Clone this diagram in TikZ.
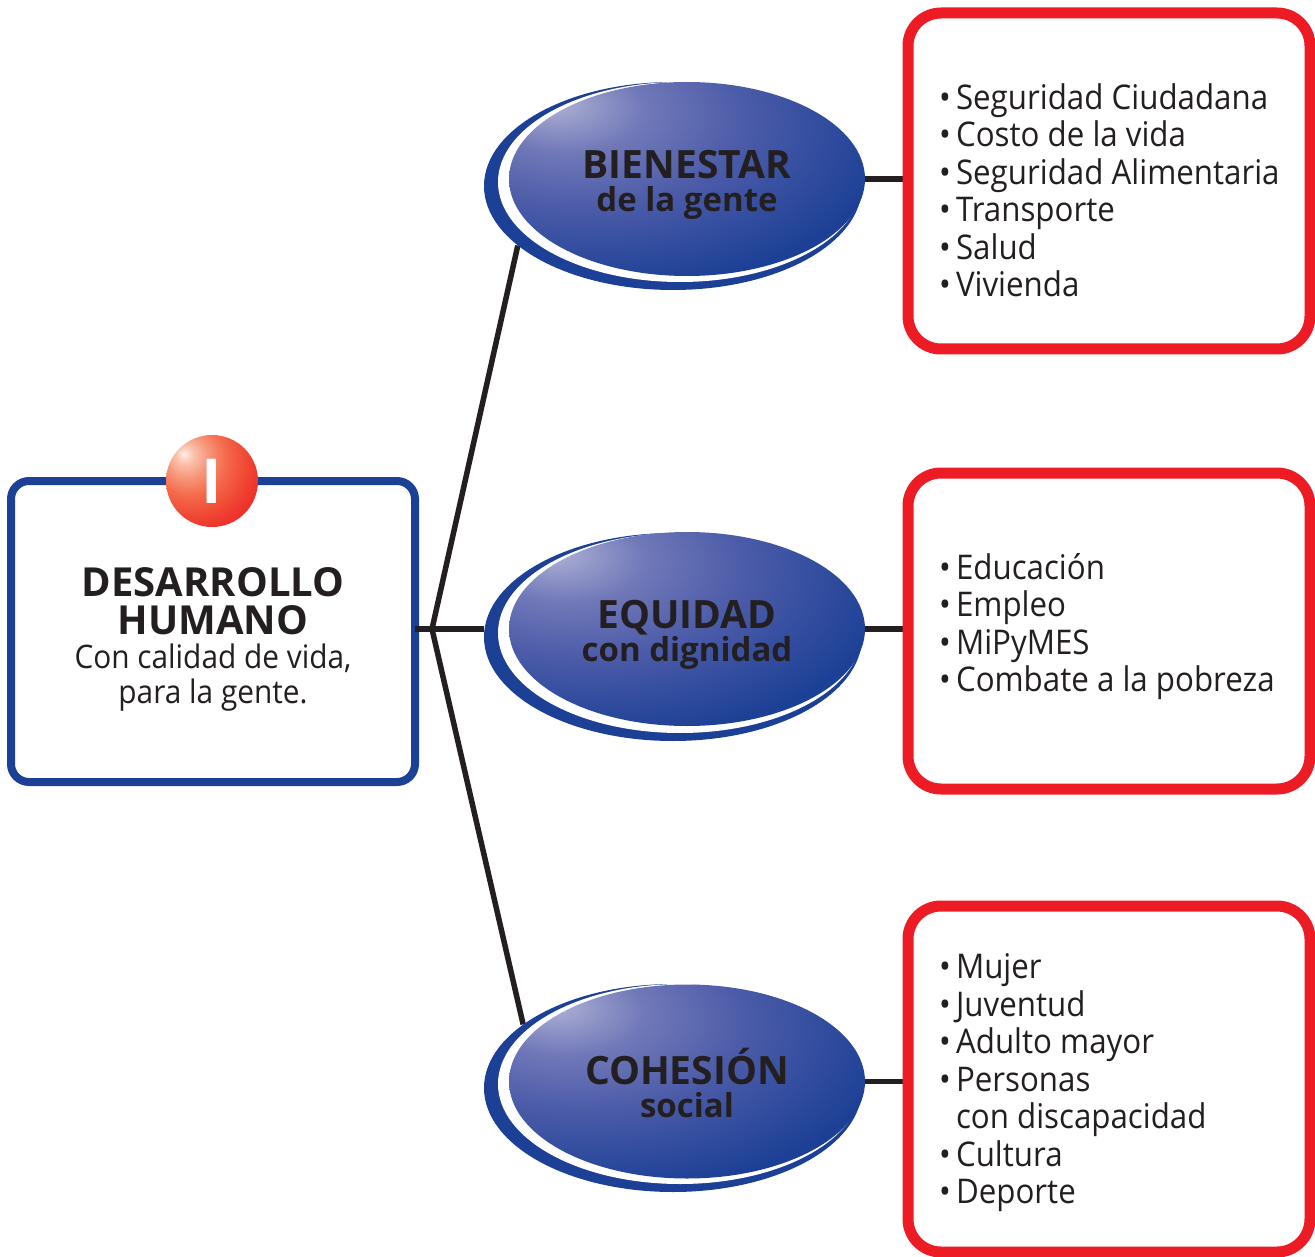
\documentclass[tikz,border=0pt]{standalone}
\usepackage{fontspec}
\setmainfont{Open Sans}[FakeStretch=0.92,BoldFeatures={FakeStretch=1}]
\usetikzlibrary{positioning}
\usetikzlibrary{backgrounds}
\usetikzlibrary{shapes.geometric}

\definecolor{deepblue}{HTML}{1C4096}
\definecolor{palelilac}{HTML}{B0B2D6}
\definecolor{softlilac}{HTML}{7078B8}
\definecolor{midblue}{HTML}{4B5BA8}
\definecolor{signred}{HTML}{ED1C24}
\definecolor{paleglow}{HTML}{FFF0E8}
\definecolor{softglow}{HTML}{FBC0AA}
\definecolor{peachglow}{HTML}{F79478}
\definecolor{warmred}{HTML}{F46A4B}
\definecolor{hotred}{HTML}{F04A35}
\definecolor{inkgrey}{HTML}{231F20}

\pgfdeclareradialshading{ovalglow}{\pgfpoint{-19bp}{20bp}}{
  color(0bp)=(palelilac); color(11bp)=(softlilac); color(23bp)=(midblue); color(40bp)=(deepblue); color(100bp)=(deepblue)}
\pgfdeclareradialshading{ballglow}{\pgfpoint{-15.5bp}{15bp}}{
  color(0bp)=(paleglow); color(5bp)=(softglow); color(12bp)=(peachglow); color(20bp)=(warmred); color(29bp)=(hotred); color(43bp)=(signred); color(100bp)=(signred)}

\tikzset{
  backoval/.style={ellipse,fill=deepblue,inner sep=0pt,minimum width=378pt,minimum height=208pt},
  gapoval/.style={ellipse,fill=white,inner sep=0pt,minimum width=364pt,minimum height=200pt},
  frontoval/.style={ellipse,shading=ovalglow,inner sep=0pt,minimum width=356pt,minimum height=194pt,
    text=inkgrey,align=center,font=\fontsize{33}{34}\selectfont},
  redbox/.style={draw=signred,line width=11pt,fill=white,rounded corners=33pt,minimum width=402pt},
  listtext/.style={anchor=west,text=inkgrey,align=left,font=\fontsize{34}{37.5}\selectfont},
  branch/.style={draw=inkgrey,line width=5.5pt}
}
\newcommand{\itm}{\makebox[17pt][l]{\textbullet}}
\newcommand{\titlesize}{\fontsize{40}{39}\selectfont\bfseries}
\newcommand{\bodysize}{\fontsize{32.4}{35}\selectfont}
\newcommand{\bigname}[2]{\rule{0pt}{39pt}{\fontsize{39}{35}\selectfont\bfseries #1}\\[-1pt]{\fontsize{33}{33}\selectfont\bfseries #2}}

\begin{document}
\begin{tikzpicture}[x=1pt,y=-1pt]
\useasboundingbox (0,0) rectangle (1315,1257);
% left box
\node (humano) [draw=deepblue,line width=8pt,rounded corners=18pt,minimum width=404pt,minimum height=301pt,
  text=inkgrey,align=center,font=\fontsize{33}{35}\selectfont] at (213,631.5)
  {\rule{0pt}{45pt}\titlesize DESARROLLO\\[3pt]\titlesize HUMANO\\[-1pt]
   \bodysize Con calidad de vida,\\\bodysize para la gente.};
\node (badge) [circle,shading=ballglow,minimum size=92pt,inner sep=0pt,text=white,
  font=\fontsize{62}{62}\selectfont\bfseries] at (212,481) {I};
\coordinate (hub) at (432,629);
% ovals
\node (bienestarback) [backoval] at (673,186) {};
\node (bienestargap) [gapoval] at (680,182) {};
\node (bienestar) [frontoval] at (687,179) {\bigname{BIENESTAR}{de la gente}};
\node (equidadback) [backoval] at (673,637) {};
\node (equidadgap) [gapoval] at (680,633) {};
\node (equidad) [frontoval] at (687,629) {\bigname{EQUIDAD}{con dignidad}};
\node (cohesionback) [backoval] at (673,1088) {};
\node (cohesiongap) [gapoval] at (680,1084) {};
\node (cohesion) [frontoval] at (687,1081.5) {\bigname{COHESIÓN}{social}};
% red boxes
\node (boxa) [redbox,minimum height=336pt] at (1109,181) {};
\node (boxb) [redbox,minimum height=316pt] at (1109,631) {};
\node (boxc) [redbox,minimum height=346pt] at (1109,1079) {};
\node (lista) [listtext] at (935.5,190.5) {\itm Seguridad Ciudadana\\\itm Costo de la vida\\\itm Seguridad Alimentaria\\\itm Transporte\\\itm Salud\\\itm Vivienda};
\node (listb) [listtext] at (935.5,626.5) {\itm Educación\\\itm Empleo\\\itm MiPyMES\\\itm Combate a la pobreza};
\node (listc) [listtext] at (935.5,1083) {\itm Mujer\\\itm Juventud\\\itm Adulto mayor\\\itm Personas\\\phantom{\itm}con discapacidad\\\itm Cultura\\\itm Deporte};
% connectors
\path[branch] ([xshift=-4pt]humano.east|-hub) edge (hub);
\begin{scope}[on background layer]
\path[branch]
  (hub) edge (equidadback.west|-hub)
  (hub) edge (bienestarback.201)
  (hub) edge (cohesionback.157)
  (bienestar.east) edge (boxa.west|-bienestar.east)
  (equidad.east) edge (boxb.west|-equidad.east)
  (cohesion.east) edge (boxc.west|-cohesion.east);
\end{scope}
\end{tikzpicture}
\end{document}
